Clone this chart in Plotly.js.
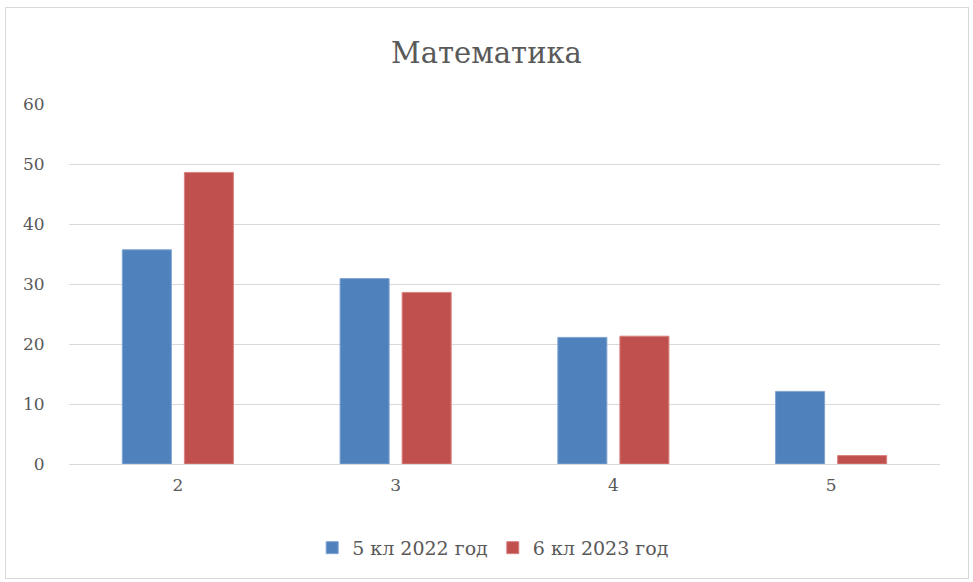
<!DOCTYPE html>
<html><head><meta charset="utf-8">
<script src="https://cdn.plot.ly/plotly-3.0.1.min.js"></script>
<style>body{margin:0;background:#fff}#wrap{position:relative;width:973px;height:582px}
#chart{width:973px;height:582px}
#frame{position:absolute;left:5px;top:7px;width:962px;height:570px;border:1px solid #d9d9d9;pointer-events:none}</style>
</head><body><div id="wrap"><div id="chart"></div><div id="frame"></div></div>
<script>
const categories = ["2","3","4","5"];
const series1Name = "5 кл 2022 год";
const series1 = [35.7, 30.9, 21.1, 12.1];
const series2Name = "6 кл 2023 год";
const series2 = [48.6, 28.6, 21.3, 1.4];
const tickVals = [0,10,20,30,40,50,60];

const serif = "DejaVu Serif, serif";
const traces = [
  {type:'bar', name:series1Name, x:categories, y:series1, marker:{color:'#4f81bd', line:{color:'#7fa3d1', width:1}}},
  {type:'bar', name:series2Name, x:categories, y:series2, marker:{color:'#c0504d', line:{color:'#d98280', width:1}}}
];
const layout = {
  width:973, height:582,
  margin:{l:69, r:33, t:104, b:118},
  paper_bgcolor:'rgba(0,0,0,0)', plot_bgcolor:'#fff',
  title:{text:'Математика', font:{family:serif, size:29, color:'#595959'}, x:0.5, xref:'container', y:0.91, yanchor:'middle'},
  barmode:'group', bargap:0.43, bargroupgap:0.21,
  xaxis:{type:'category', tickfont:{family:serif, size:17, color:'#595959'}, showline:true, linecolor:'#d9d9d9', linewidth:1, ticks:'outside', ticklen:6, tickcolor:'rgba(0,0,0,0)', showgrid:false},
  yaxis:{range:[0,60], tickvals:tickVals, tickfont:{family:serif, size:17, color:'#595959'}, gridcolor:'#d9d9d9', gridwidth:1, zeroline:false, showline:false, ticks:'outside', ticklen:20, tickcolor:'rgba(0,0,0,0)'},
  legend:{orientation:'h', x:0.487, xanchor:'center', y:-0.18, yanchor:'top', font:{family:serif, size:19, color:'#595959'}, itemwidth:30, tracegroupgap:0},
  showlegend:true
};
Plotly.newPlot('chart', traces, layout, {displayModeBar:false, responsive:false});
</script></body></html>
